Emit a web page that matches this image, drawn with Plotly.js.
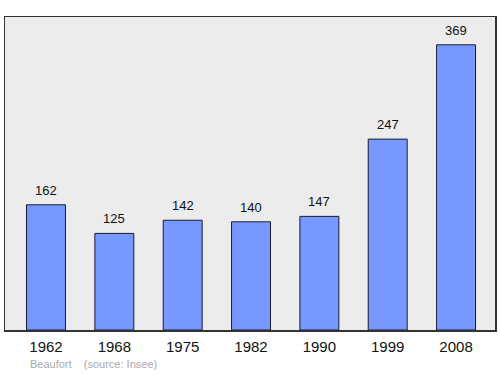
<!DOCTYPE html>
<html><head><meta charset="utf-8">
<script src="https://cdn.plot.ly/plotly-3.0.1.min.js"></script>
<style>body{margin:0;padding:0;background:#fff}#chart{width:500px;height:374px}</style>
</head><body><div id="chart"></div>
<script>
const years = ["1962","1968","1975","1982","1990","1999","2008"];
const population = [162,125,142,140,147,247,369];
const FONT = "Liberation Sans, Arial, sans-serif";

const trace = {
  type: "bar",
  x: years,
  y: population,
  width: 0.57,
  marker: {color: "#7799ff", line: {color: "#1a1a33", width: 1}},
  hoverinfo: "none"
};
const annotations = years.map((yr, i) => ({
  x: i, y: population[i], text: String(population[i]),
  showarrow: false, yanchor: "bottom", yshift: 5,
  font: {family: FONT, size: 13, color: "#111"}
}));
annotations.push({
  xref: "paper", yref: "paper", x: 0.047, y: -0.11, xanchor: "left", yanchor: "middle",
  text: "Beaufort &nbsp;&nbsp; (source: Insee)", showarrow: false,
  font: {family: FONT, size: 11, color: "#aaaaaa"}
});
const layout = {
  width: 500, height: 374,
  margin: {l: 5, r: 5, t: 17, b: 44},
  paper_bgcolor: "#ffffff", plot_bgcolor: "#ececec",
  showlegend: false,
  xaxis: {type: "category", range: [-0.6, 6.57], showgrid: false, zeroline: false,
    showline: true, mirror: true, linecolor: "#333333", linewidth: 1.5,
    ticks: "outside", ticklen: 2, tickcolor: "rgba(0,0,0,0)",
    tickfont: {family: FONT, size: 15, color: "#111"}},
  yaxis: {range: [0, 405], showgrid: false, zeroline: false, showticklabels: false,
    showline: true, mirror: true, linecolor: "#333333", linewidth: 1.5, ticks: ""},
  annotations: annotations
};
Plotly.newPlot("chart", [trace], layout, {staticPlot: true, displayModeBar: false});
</script></body></html>
